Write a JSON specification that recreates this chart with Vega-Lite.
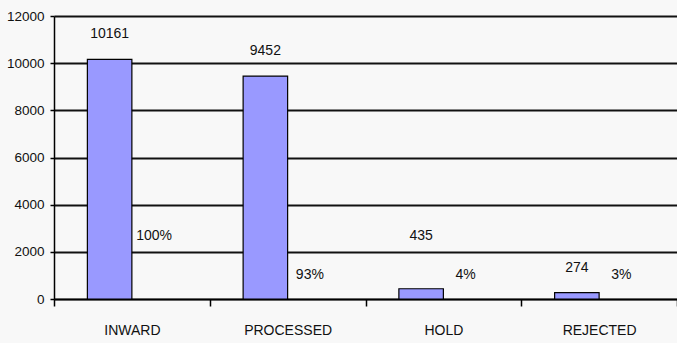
{
  "$schema": "https://vega.github.io/schema/vega-lite/v6.json",
  "width": 623,
  "height": 283,
  "autosize": "none",
  "padding": {"left": 54, "top": 16, "right": 0, "bottom": 44},
  "background": "#f8f8f8",
  "data": {
    "values": [
      {"stage": "INWARD", "count": 10161, "pct": "100%"},
      {"stage": "PROCESSED", "count": 9452, "pct": "93%"},
      {"stage": "HOLD", "count": 435, "pct": "4%"},
      {"stage": "REJECTED", "count": 274, "pct": "3%"}
    ]
  },
  "config": {
    "view": {"stroke": null},
    "font": "Liberation Sans",
    "text": {"font": "Liberation Sans", "fontSize": 14, "color": "#111", "baseline": "middle", "align": "center"}
  },
  "encoding": {
    "x": {
      "field": "stage",
      "type": "nominal",
      "sort": null,
      "scale": {"paddingInner": 0, "paddingOuter": 0},
      "axis": {
        "title": null,
        "labelAngle": 0,
        "labelFont": "Liberation Sans",
        "labelFontSize": 14,
        "labelColor": "#111",
        "labelPadding": 17,
        "domainColor": "#000",
        "domainWidth": 1.5,
        "tickColor": "#000",
        "tickWidth": 1.5,
        "tickSize": 7,
        "tickBand": "extent",
        "grid": false
      }
    },
    "xOffset": {"datum": "count", "scale": {"domain": ["count", "pct"], "paddingOuter": 0.75, "paddingInner": 0}}
  },
  "layer": [
    {
      "mark": {"type": "bar", "fill": "#9999ff", "stroke": "#000", "strokeWidth": 1.2},
      "encoding": {
        "y": {
          "field": "count",
          "type": "quantitative",
          "scale": {"domain": [0, 12000], "nice": false},
          "axis": {
            "title": null,
            "values": [0, 2000, 4000, 6000, 8000, 10000, 12000],
            "format": "d",
            "labelFont": "Liberation Sans",
            "labelFontSize": 13.5,
            "labelColor": "#111",
            "labelPadding": 6,
            "domainColor": "#000",
            "domainWidth": 1.5,
            "tickColor": "#000",
            "tickWidth": 1.5,
            "tickSize": 4,
            "grid": true,
            "gridColor": "#111",
            "gridWidth": 2,
            "gridOpacity": 1,
            "zindex": 0
          }
        }
      }
    },
    {
      "transform": [{"filter": "datum.stage !== 'HOLD'"}],
      "mark": {"type": "text", "dy": -25},
      "encoding": {
        "y": {"field": "count", "type": "quantitative"},
        "text": {"field": "count", "type": "quantitative", "format": "d"}
      }
    },
    {
      "transform": [{"filter": "datum.stage === 'HOLD'"}],
      "mark": {"type": "text", "dy": -53},
      "encoding": {
        "y": {"field": "count", "type": "quantitative"},
        "text": {"field": "count", "type": "quantitative", "format": "d"}
      }
    },
    {
      "transform": [{"filter": "datum.stage !== 'INWARD'"}],
      "mark": {"type": "text", "dy": -24},
      "encoding": {
        "xOffset": {"datum": "pct"},
        "y": {"datum": 0, "type": "quantitative"},
        "text": {"field": "pct"}
      }
    },
    {
      "transform": [{"filter": "datum.stage === 'INWARD'"}],
      "mark": {"type": "text", "dy": -63},
      "encoding": {
        "xOffset": {"datum": "pct"},
        "y": {"datum": 0, "type": "quantitative"},
        "text": {"field": "pct"}
      }
    }
  ]
}
